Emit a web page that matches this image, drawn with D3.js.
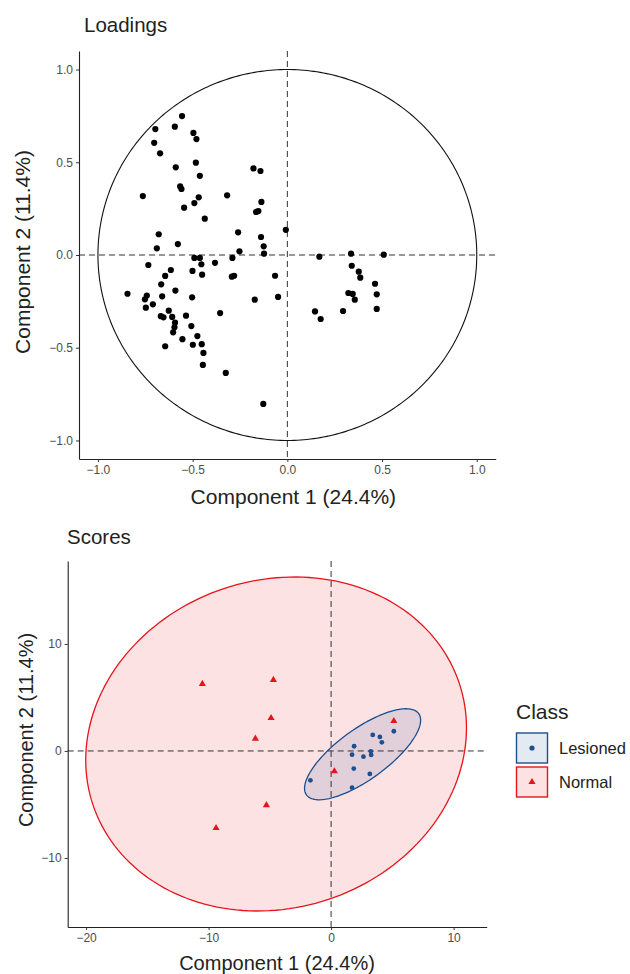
<!DOCTYPE html>
<html>
<head>
<meta charset="utf-8">
<script src="https://cdn.jsdelivr.net/npm/d3@7"></script>
<style>
  body { margin: 0; background: #fff; }
  text { font-family: "Liberation Sans", Arial, sans-serif; }
</style>
</head>
<body>
<script>
// loadings (component 1, component 2)
const loadX = [-0.556,-0.697,-0.594,-0.496,-0.480,-0.703,-0.672,-0.483,-0.589,-0.179,
  -0.142,-0.462,-0.566,-0.559,-0.763,-0.318,-0.468,-0.491,-0.137,-0.545,
  -0.165,-0.153,-0.436,-0.008,-0.679,-0.260,-0.139,-0.578,-0.689,-0.125,
  -0.253,-0.123,-0.491,-0.462,-0.290,-0.734,-0.454,-0.382,-0.615,-0.501,
  -0.645,-0.450,-0.293,-0.281,-0.065,-0.666,-0.844,-0.742,-0.752,-0.661,
  -0.591,-0.503,-0.172,-0.049,-0.747,-0.710,-0.626,-0.355,-0.668,-0.654,
  -0.608,-0.535,-0.593,-0.596,-0.603,-0.507,-0.475,-0.554,-0.645,-0.499,
  -0.452,-0.443,-0.446,-0.325,-0.127,0.169,0.336,0.509,0.340,0.377,
  0.385,0.463,0.322,0.345,0.356,0.472,0.146,0.176,0.294,0.472];
const loadY = [0.749,0.679,0.692,0.658,0.625,0.605,0.548,0.498,0.473,0.467,
  0.453,0.427,0.370,0.356,0.318,0.322,0.311,0.280,0.286,0.255,
  0.232,0.237,0.196,0.136,0.112,0.122,0.097,0.059,0.036,0.047,
  0.020,0.007,-0.016,-0.016,-0.016,-0.054,-0.050,-0.042,-0.081,-0.086,
  -0.113,-0.106,-0.117,-0.112,-0.112,-0.158,-0.209,-0.219,-0.239,-0.223,
  -0.192,-0.228,-0.241,-0.226,-0.284,-0.266,-0.300,-0.313,-0.330,-0.336,
  -0.334,-0.327,-0.365,-0.390,-0.417,-0.383,-0.437,-0.454,-0.492,-0.484,
  -0.481,-0.528,-0.593,-0.636,-0.803,-0.009,0.007,0.002,-0.058,-0.090,
  -0.122,-0.155,-0.205,-0.210,-0.241,-0.212,-0.304,-0.345,-0.302,-0.291];

// scores
const classes = ["Lesioned", "Normal"];
const scoreX = [-1.69,3.40,3.98,4.14,5.12,1.88,3.24,1.71,2.64,3.27,1.85,3.16,1.71,
  5.12,0.27,-10.51,-4.71,-4.90,-6.18,-5.28,-9.39];
const scoreY = [-2.74,1.50,1.31,0.81,1.84,0.44,-0.03,-0.35,-0.53,-0.37,-1.65,-2.15,-3.43,
  2.80,-1.90,6.26,6.64,3.08,1.15,-5.07,-7.20];
const scoreClass = ["Lesioned","Lesioned","Lesioned","Lesioned","Lesioned","Lesioned","Lesioned",
  "Lesioned","Lesioned","Lesioned","Lesioned","Lesioned","Lesioned",
  "Normal","Normal","Normal","Normal","Normal","Normal","Normal","Normal"];

// ellipse per class: centre, first axis vector, second axis vector (data units)
const ellCentre = [[2.57, -0.31], [-4.49, 0.65]];
const ellAxis1 = [[4.58, 3.80], [15.5, 0.4]];
const ellAxis2 = [[1.21, -1.91], [1.1, 15.6]];

const xTicksLoad = [-1.0, -0.5, 0.0, 0.5, 1.0];
const yTicksLoad = [-1.0, -0.5, 0.0, 0.5, 1.0];
const xTicksScore = [-20, -10, 0, 10];
const yTicksScore = [-10, 0, 10];

const colour = {Lesioned: "#1d4f91", Normal: "#e8141b"};
const fillCol = {Lesioned: "rgba(29,79,145,0.12)", Normal: "rgba(232,20,27,0.12)"};

const svg = d3.select("body").append("svg")
  .attr("width", 630).attr("height", 974);

function styleAxis(g) {
  g.select(".domain").attr("stroke", "#222").attr("stroke-width", 1.1);
  g.selectAll(".tick line").attr("stroke", "#333");
  g.selectAll(".tick text").attr("fill", "#4d4d4d").attr("font-size", 12);
}

// ---------- Loadings ----------
const x1 = d3.scaleLinear().domain([-1.1, 1.1]).range([79, 495.7]);
const y1 = d3.scaleLinear().domain([-1.1, 1.1]).range([459, 51]);

const gLoad = svg.append("g");
const line = d3.line();

const circ = d3.range(0, 361).map(a => {
  const t = a * Math.PI / 180;
  return [x1(Math.cos(t)), y1(Math.sin(t))];
});
gLoad.append("path").attr("d", line(circ))
  .attr("fill", "none").attr("stroke", "#111").attr("stroke-width", 1.1);

gLoad.append("line").attr("x1", x1(0)).attr("x2", x1(0)).attr("y1", y1(1.1)).attr("y2", y1(-1.1))
  .attr("stroke", "#333").attr("stroke-dasharray", "6,4");
gLoad.append("line").attr("x1", x1(-1.1)).attr("x2", x1(1.1)).attr("y1", y1(0)).attr("y2", y1(0))
  .attr("stroke", "#333").attr("stroke-dasharray", "6,4");

gLoad.selectAll("circle.pt").data(loadX).enter()
  .append("circle").attr("class", "pt")
  .attr("cx", d => x1(d))
  .attr("cy", (d, i) => y1(loadY[i]))
  .attr("r", 3.1)
  .attr("fill", "#000");

gLoad.append("g").attr("transform", "translate(0," + y1(-1.1) + ")")
  .call(d3.axisBottom(x1).tickValues(xTicksLoad).tickFormat(d3.format(".1f")).tickSize(3).tickSizeOuter(0))
  .call(styleAxis);
gLoad.append("g").attr("transform", "translate(" + x1(-1.1) + ",0)")
  .call(d3.axisLeft(y1).tickValues(yTicksLoad).tickFormat(d3.format(".1f")).tickSize(3).tickSizeOuter(0))
  .call(styleAxis);

gLoad.append("text").attr("x", 84).attr("y", 31.5).attr("font-size", 20.5).attr("fill", "#222").text("Loadings");
gLoad.append("text").attr("x", x1(0) + 6).attr("y", 504).attr("text-anchor", "middle")
  .attr("font-size", 21).attr("fill", "#222").text("Component 1 (24.4%)");
gLoad.append("text").attr("transform", "translate(29.5,252) rotate(-90)")
  .attr("text-anchor", "middle").attr("font-size", 21).attr("fill", "#222").text("Component 2 (11.4%)");

// ---------- Scores ----------
const x2 = d3.scaleLinear().domain([-21.5, 12.7]).range([67.7, 486.7]);
const y2 = d3.scaleLinear().domain([-16.45, 17.75]).range([927, 561]);

const gScore = svg.append("g");

// ellipses, Normal first (underneath)
[1, 0].forEach(k => {
  const c = ellCentre[k], u = ellAxis1[k], v = ellAxis2[k];
  const pts = d3.range(0, 361, 2).map(a => {
    const t = a * Math.PI / 180;
    return [x2(c[0] + u[0] * Math.cos(t) + v[0] * Math.sin(t)),
            y2(c[1] + u[1] * Math.cos(t) + v[1] * Math.sin(t))];
  });
  gScore.append("path").attr("d", line(pts) + "Z")
    .attr("fill", fillCol[classes[k]])
    .attr("stroke", colour[classes[k]]).attr("stroke-width", 1.3);
});

gScore.append("line").attr("x1", x2(0)).attr("x2", x2(0)).attr("y1", y2(17.75)).attr("y2", y2(-16.45))
  .attr("stroke", "#333").attr("stroke-dasharray", "6,4");
gScore.append("line").attr("x1", x2(-21.5)).attr("x2", x2(12.7)).attr("y1", y2(0)).attr("y2", y2(0))
  .attr("stroke", "#333").attr("stroke-dasharray", "6,4");

const tri = d3.symbol().type(d3.symbolTriangle).size(22);
scoreX.forEach((sx, i) => {
  const cls = scoreClass[i];
  if (cls === "Lesioned") {
    gScore.append("circle").attr("cx", x2(sx)).attr("cy", y2(scoreY[i]))
      .attr("r", 2.4).attr("fill", colour[cls]);
  } else {
    gScore.append("path").attr("d", tri)
      .attr("transform", "translate(" + x2(sx) + "," + y2(scoreY[i]) + ")")
      .attr("fill", colour[cls]);
  }
});

gScore.append("g").attr("transform", "translate(0," + y2(-16.45) + ")")
  .call(d3.axisBottom(x2).tickValues(xTicksScore).tickSize(3).tickSizeOuter(0))
  .call(styleAxis);
gScore.append("g").attr("transform", "translate(" + x2(-21.5) + ",0)")
  .call(d3.axisLeft(y2).tickValues(yTicksScore).tickSize(3).tickSizeOuter(0))
  .call(styleAxis);

gScore.append("text").attr("x", 67).attr("y", 544).attr("font-size", 20.5).attr("fill", "#222").text("Scores");
gScore.append("text").attr("x", 277).attr("y", 970).attr("text-anchor", "middle")
  .attr("font-size", 20).attr("fill", "#222").text("Component 1 (24.4%)");
gScore.append("text").attr("transform", "translate(33,730) rotate(-90)")
  .attr("text-anchor", "middle").attr("font-size", 20).attr("fill", "#222").text("Component 2 (11.4%)");

// legend
const leg = svg.append("g").attr("transform", "translate(516,0)");
leg.append("text").attr("x", 0).attr("y", 719).attr("font-size", 21).attr("fill", "#222").text("Class");
classes.forEach((cls, i) => {
  const y0 = 733 + i * 34;
  leg.append("rect").attr("x", 0.5).attr("y", y0).attr("width", 31).attr("height", 30)
    .attr("fill", fillCol[cls]).attr("stroke", colour[cls]).attr("stroke-width", 1.4);
  if (cls === "Lesioned") {
    leg.append("circle").attr("cx", 16).attr("cy", y0 + 15).attr("r", 2.6).attr("fill", colour[cls]);
  } else {
    leg.append("path").attr("d", tri).attr("transform", "translate(16," + (y0 + 15) + ")").attr("fill", colour[cls]);
  }
  leg.append("text").attr("x", 43).attr("y", y0 + 21).attr("font-size", 16.5).attr("fill", "#222").text(cls);
});
</script>
</body>
</html>
